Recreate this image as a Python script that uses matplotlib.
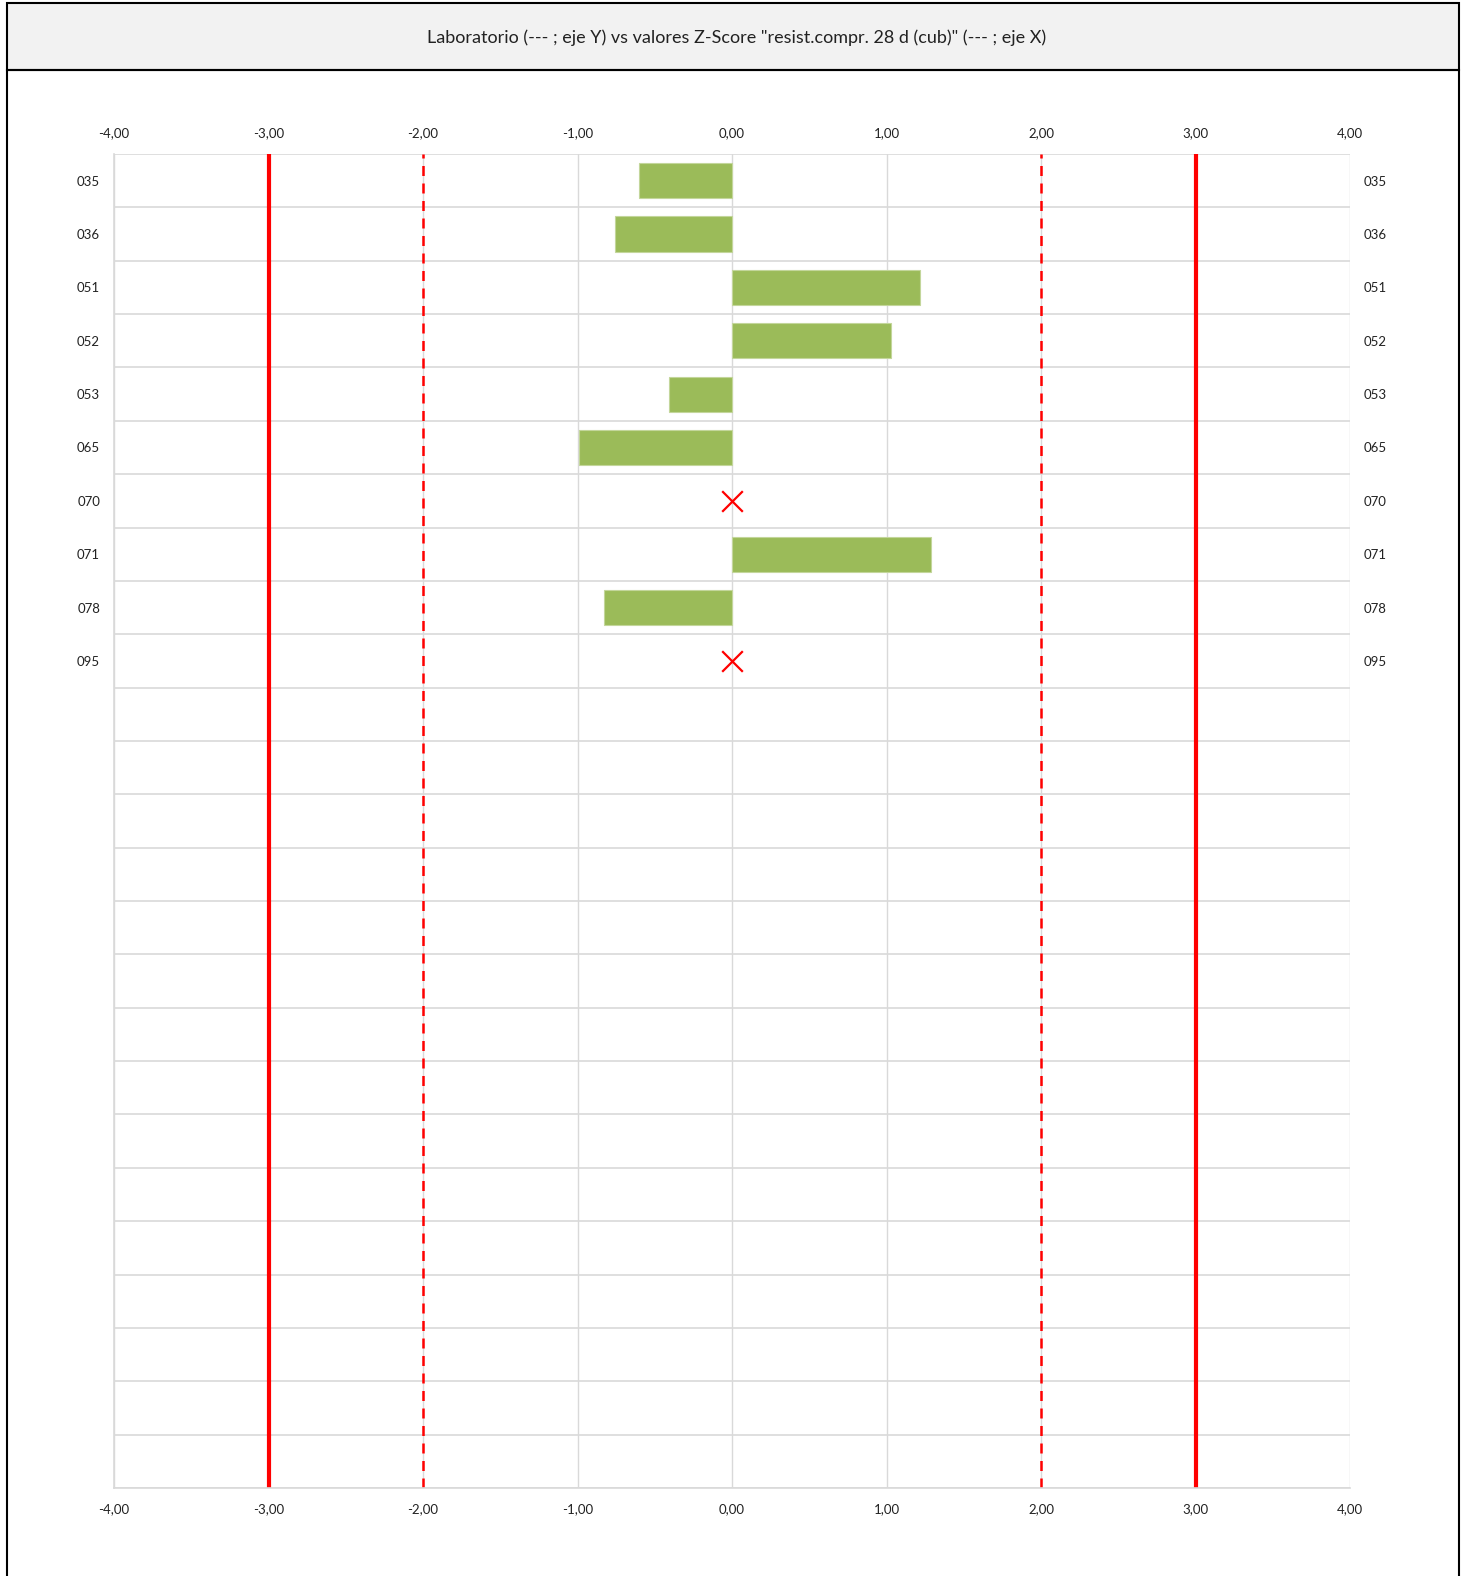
import numpy as np
import matplotlib.pyplot as plt
from matplotlib.patches import Rectangle
from matplotlib.ticker import FuncFormatter

plt.rcParams['font.family'] = ['Lato', 'DejaVu Sans']

# data
labs = ['035', '036', '051', '052', '053', '065', '070', '071', '078', '095']
zscore = [-0.60, -0.76, 1.22, 1.03, -0.41, -0.99, None, 1.29, -0.83, None]
n_rows = 25
xticks = [-4, -3, -2, -1, 0, 1, 2, 3, 4]
title = 'Laboratorio (--- ; eje Y) vs valores Z-Score "resist.compr. 28 d (cub)" (--- ; eje X)'

W, H = 1473, 1576
fig = plt.figure(figsize=(W / 100, H / 100), dpi=100)

# title box + outer frame
fig.patches.append(Rectangle((7 / W, 1 - 70 / H), 1452 / W, 67 / H, transform=fig.transFigure,
                             facecolor='#f2f2f2', edgecolor='black', lw=1.5))
fig.patches.append(Rectangle((7 / W, -0.01), 1452 / W, 1 - 70 / H + 0.01, transform=fig.transFigure,
                             facecolor='none', edgecolor='black', lw=1.5))
fig.text(0.5, 1 - 38 / H, title, ha='center', va='center', fontsize=13, color='#222222')

ax = fig.add_axes([114 / W, 1 - 1488 / H, 1236 / W, 1334 / H])

y = np.arange(len(labs))
bar_y = [yy for yy, v in zip(y, zscore) if v is not None]
bar_v = [v for v in zscore if v is not None]
ax.barh(bar_y, bar_v, height=0.66, color='#9bbb59', edgecolor='#c3d69b', lw=0.8, zorder=3)

# labs without a value are marked with a red cross at zero
miss_y = [yy for yy, v in zip(y, zscore) if v is None]
ax.scatter([0] * len(miss_y), miss_y, marker='x', s=220, color='red', lw=1.6, zorder=4)

for xv in (-3, 3):
    ax.axvline(xv, color='red', lw=3, zorder=2)
for xv in (-2, 2):
    ax.axvline(xv, color='red', lw=1.8, ls=(0, (4, 3)), zorder=2)

ax.set_xlim(-4, 4)
ax.set_ylim(n_rows - 0.5, -0.5)
ax.set_xticks(xticks)
ax.xaxis.set_major_formatter(FuncFormatter(lambda v, p: ('%.2f' % v).replace('.', ',')))
ax.set_yticks(y)
ax.set_yticklabels(labs)
ax.set_yticks(np.arange(-0.5, n_rows, 1), minor=True)

ax.grid(axis='x', which='major', color='#d9d9d9', lw=1, zorder=0)
ax.grid(axis='y', which='minor', color='#d9d9d9', lw=1.2, zorder=0)
ax.tick_params(axis='x', which='both', length=0, labeltop=True, labelbottom=True,
               labelsize=9.5, pad=11, colors='#222222')
ax.tick_params(axis='y', which='both', length=0, labelleft=True, labelright=True,
               labelsize=9.5, pad=10, colors='#222222')
for s in ax.spines.values():
    s.set_color('#d9d9d9')
    s.set_linewidth(1.2)
ax.spines['top'].set_visible(False)
ax.spines['right'].set_visible(False)

fig.savefig('out.png', dpi=100)
